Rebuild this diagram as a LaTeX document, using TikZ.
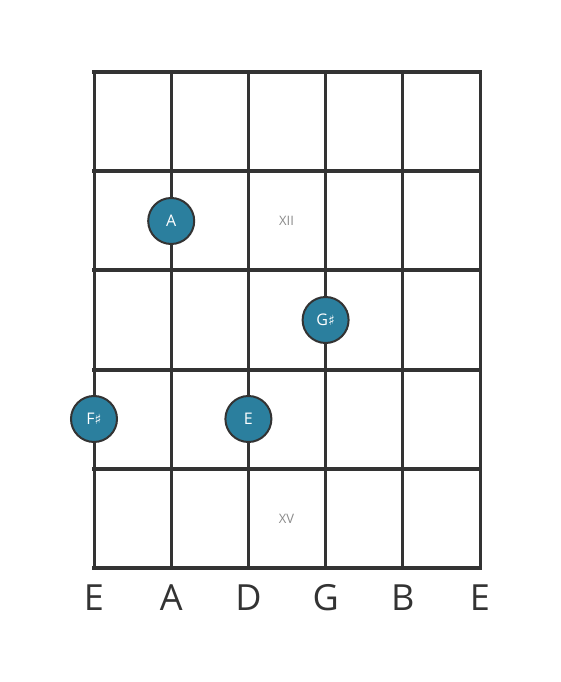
\documentclass[tikz,border=0pt]{standalone}
\usepackage{fontspec}
\setmainfont{Open Sans}
\newfontfamily\symfont{DejaVu Sans}
\definecolor{gridc}{HTML}{333333}
\definecolor{dotc}{HTML}{2B7F9E}
\definecolor{markc}{HTML}{8A8A8A}
\begin{document}
\begin{tikzpicture}[x=1pt,y=1pt,
  fretline/.style={gridc,line width=4pt},
  stringline/.style={gridc,line width=3pt},
  notedot/.style={circle,fill=dotc,draw=gridc,line width=2pt,minimum size=46pt,inner sep=0pt,text=white,font=\fontsize{16}{16}\selectfont},
  fretmark/.style={text=markc,font=\fontsize{13}{13}\selectfont},
  strname/.style={text=gridc,font=\fontsize{36}{36}\selectfont}]
\useasboundingbox (0,0) rectangle (560,682);
% coordinates
\foreach \i/\x in {0/94,1/171.2,2/248.4,3/325.6,4/402.8,5/480}{
  \coordinate (t\i) at (\x,610);
  \coordinate (b\i) at (\x,114);
}
% strings
\foreach \i in {0,...,5}{ \draw[stringline] (t\i) -- (b\i); }
% frets
\foreach \j/\y in {0/610,1/511,2/412,3/312,4/213,5/114}{
  \coordinate (l\j) at (94,\y);
  \coordinate (r\j) at (480,\y);
  \draw[fretline,line cap=rect] (l\j) -- (r\j);
}
% fret markers
\node[fretmark] (m12) at (286.5,461) {XII};
\node[fretmark] (m15) at (286.5,163) {XV};
% notes
\node[notedot] (nA) at (171.2,461) {A};
\node[notedot] (nGs) at (325.6,362) {G{\symfont\fontsize{14}{14}\selectfont ♯}};
\node[notedot] (nFs) at (94,263) {F{\symfont\fontsize{14}{14}\selectfont ♯}};
\node[notedot] (nE) at (248.4,263) {E};
% string names
\node[strname] (s0) at (94,84) {E};
\node[strname] (s1) at (171.2,84) {A};
\node[strname] (s2) at (248.4,84) {D};
\node[strname] (s3) at (325.6,84) {G};
\node[strname] (s4) at (402.8,84) {B};
\node[strname] (s5) at (480,84) {E};
\end{tikzpicture}
\end{document}
